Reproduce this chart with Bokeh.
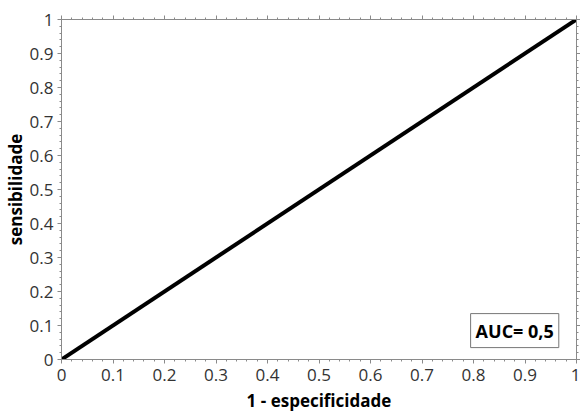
from bokeh.plotting import figure
from bokeh.models import LinearAxis, FixedTicker, Label, Range1d
from bokeh.embed import file_html
from bokeh.resources import INLINE

# ROC curve points
fpr = [0.0, 1.0]
tpr = [0.0, 1.0]
auc_text = "AUC= 0,5"
x_title = "1 - especificidade"
y_title = "sensibilidade"

tick_values = [0.0, 0.1, 0.2, 0.3, 0.4, 0.5, 0.6, 0.7, 0.8, 0.9, 1.0]
tick_labels = ["0", "0.1", "0.2", "0.3", "0.4", "0.5", "0.6", "0.7", "0.8", "0.9", "1"]
minor_values = [i / 50 for i in range(51)]

FONT = "Open Sans"
AXIS_GRAY = "#8a8a8a"

p = figure(width=580, height=414, output_backend="svg", toolbar_location=None,
           x_range=Range1d(0, 1), y_range=Range1d(0, 1),
           min_border_left=61, min_border_right=3, min_border_top=19, min_border_bottom=54,
           x_axis_label=x_title, y_axis_label=y_title)
p.outline_line_color = None
p.xgrid.visible = False
p.ygrid.visible = False

p.add_layout(LinearAxis(), "above")
p.add_layout(LinearAxis(), "right")

overrides = {v: s for v, s in zip(tick_values, tick_labels)}
for ax in p.axis:
    ax.ticker = FixedTicker(ticks=tick_values, minor_ticks=minor_values)
    ax.axis_line_color = AXIS_GRAY
    ax.major_tick_line_color = AXIS_GRAY
    ax.minor_tick_line_color = AXIS_GRAY
    ax.major_tick_out = 4
    ax.major_tick_in = 0
    ax.minor_tick_out = 2
    ax.minor_tick_in = 0
    ax.major_label_overrides = overrides
    ax.major_label_text_font = FONT
    ax.major_label_text_font_size = "17px"
    ax.major_label_text_color = "#333333"
    ax.axis_label_text_font = FONT
    ax.axis_label_text_font_size = "17px"
    ax.axis_label_text_font_style = "bold"
    ax.axis_label_text_color = "#000000"

p.xaxis[0].major_label_standoff = 7
p.xaxis[0].axis_label_standoff = 3
p.yaxis[0].major_label_standoff = 4
p.yaxis[0].axis_label_standoff = 0

for ax in p.above + p.right:
    ax.major_label_text_font_size = "0px"
    ax.major_label_text_alpha = 0
    ax.major_label_standoff = 0
    ax.axis_label = None

p.line(fpr, tpr, line_color="black", line_width=4)

p.add_layout(Label(x=0.88, y=0.085, text=auc_text, text_align="center",
                   text_baseline="middle", text_font=FONT, text_font_size="18px",
                   text_font_style="bold", text_color="black",
                   border_line_color="#777777", border_line_width=1,
                   background_fill_color="white", padding=5))

open("out.html", "w").write(file_html(p, INLINE))
